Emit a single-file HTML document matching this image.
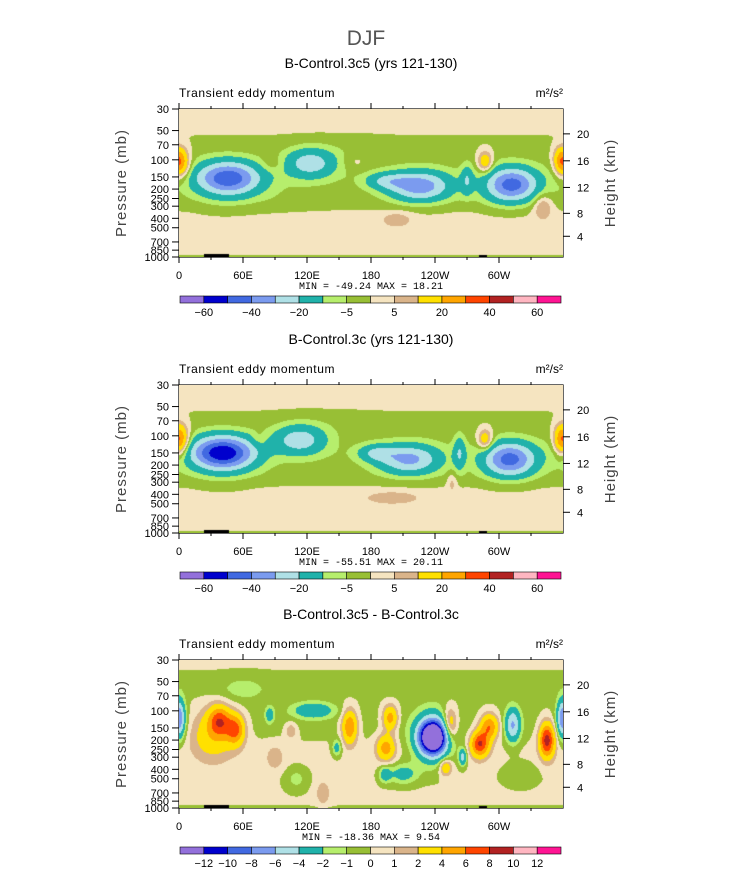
<!DOCTYPE html>
<html><head><meta charset="utf-8">
<style>
html,body{margin:0;padding:0;background:#fff;}
body{width:733px;height:873px;position:relative;overflow:hidden;font-family:"Liberation Sans",sans-serif;}
</style></head>
<body>
<svg id="svg" width="733" height="873" style="position:absolute;left:0;top:0"></svg>
<script>
// ---------- data ----------
const lonTicks = [0, 60, 120, 180, 240, 300];
const lonTickLabels = ["0", "60E", "120E", "180", "120W", "60W"];
const presTicks = [30, 50, 70, 100, 150, 200, 250, 300, 400, 500, 700, 850, 1000];
const heightTicks = [20, 16, 12, 8, 4];
const heightTickFrac = [0.168, 0.35, 0.53, 0.705, 0.86];
const colors = ["#9370db","#0000cd","#4169e1","#7b9bef","#afe0e6","#20b2aa","#b6ee6c","#98bf35","#f5e4c0","#dab48a","#ffe000","#ffa500","#ff4500","#b22222","#ffb6c1","#ff1493"];
const levelsAB = [-60,-50,-40,-30,-20,-10,-5,0,5,10,20,30,40,50,60];
const levelsDiff = [-12,-10,-8,-6,-4,-2,-1,0,1,2,4,6,8,10,12];
const labelsAB = ["-60","","-40","","-20","","-5","","5","","20","","40","","60"];
const labelsDiff = ["-12","-10","-8","-6","-4","-2","-1","0","1","2","4","6","8","10","12"];
// background vertical profiles (pressure, value)
const profP = [30, 45, 60, 80, 110, 150, 250, 350, 500, 700, 900, 1000];
const profA = [2, 1.5, -0.5, -1.5, -2.5, -3.3, -2.3, 0.5, 2, 2, 1, -1];
const profB = [2, 1.5, -0.5, -1.5, -2.5, -3.3, -2.3, 0.5, 2, 2, 1, -1];
const profC = [0.3, -0.2, -0.4, -0.2, -0.3, -0.3, 0.2, 0.3, 0.2, 0.2, 0.2, -0.3];
// blobs: lon, pressure, amplitude, lon-width(deg), vertical width (fraction)
const blobsA_lon = [46, 123, 226, 195, 312, 270, 2, 358, 287, 204, 341, 90, 160, 40, 300, 88, 165];
const blobsA_p   = [155, 108, 187, 165, 180, 160, 110, 100, 105, 410, 300, 250, 75, 300, 250, 110, 105];
const blobsA_amp = [-45, -24, -34, -16, -42, -14, 22, 18, 20, 8, 12, -1, -1.5, -1, -1, 5, 4];
const blobsA_wl  = [21, 17, 20, 14, 17, 4, 6, 5, 5, 10, 6, 25, 25, 20, 15, 8, 8];
const blobsA_wy  = [0.08, 0.07, 0.07, 0.04, 0.08, 0.07, 0.07, 0.06, 0.05, 0.035, 0.06, 0.08, 0.06, 0.07, 0.07, 0.04, 0.04];
const blobsB_lon = [41, 113, 216, 185, 310, 263, 2, 358, 287, 200, 256, 140, 40, 75];
const blobsB_p   = [150, 110, 175, 150, 175, 150, 110, 110, 110, 430, 300, 75, 300, 110];
const blobsB_amp = [-56, -24, -30, -16, -42, -16, 22, 18, 20, 8, 7, -1.5, -1, 5];
const blobsB_wl  = [21, 17, 20, 12, 17, 4, 6, 5, 5, 18, 3, 30, 20, 5];
const blobsB_wy  = [0.08, 0.07, 0.07, 0.04, 0.08, 0.08, 0.07, 0.07, 0.05, 0.03, 0.05, 0.06, 0.07, 0.04];
const blobsC_lon = [238, 238, 210, 38, 53, 32, 0, 360, 126, 160, 198, 194, 282, 291, 254, 250, 313, 345, 266, 148, 193, 90, 110, 320, 60, 135, 85, 105];
const blobsC_p   = [187, 190, 445, 127, 155, 170, 120, 120, 99, 145, 118, 240, 220, 145, 140, 380, 140, 200, 300, 240, 450, 300, 500, 450, 60, 700, 110, 160];
const blobsC_amp = [-16, -6, -3, 6, 6, 3.5, -4, -4, -3.5, 6, 5, 5, 8, 6, 5, 4, -6, 9, -5, -3, -3, 1.5, -1.5, -1.2, -1.2, 1.5, -3, 2];
const blobsC_wl  = [8, 13, 10, 7, 6, 15, 4, 4, 14, 5, 5, 6, 6, 6, 5, 4, 5, 5, 2.5, 3, 4, 6, 8, 12, 15, 5, 3, 4];
const blobsC_wy  = [0.07, 0.12, 0.05, 0.07, 0.07, 0.12, 0.09, 0.09, 0.04, 0.08, 0.06, 0.06, 0.06, 0.06, 0.08, 0.04, 0.08, 0.08, 0.04, 0.04, 0.04, 0.06, 0.06, 0.06, 0.06, 0.06, 0.04, 0.04];

const panels = [
 {top:109, title:"B-Control.3c5 (yrs 121-130)", prof:profA, lon:blobsA_lon,p:blobsA_p,amp:blobsA_amp,wl:blobsA_wl,wy:blobsA_wy, lev:levelsAB, labs:labelsAB, mm:"MIN = -49.24   MAX =  18.21"},
 {top:385, title:"B-Control.3c (yrs 121-130)", prof:profB, lon:blobsB_lon,p:blobsB_p,amp:blobsB_amp,wl:blobsB_wl,wy:blobsB_wy, lev:levelsAB, labs:labelsAB, mm:"MIN = -55.51   MAX =  20.11"},
 {top:660, title:"B-Control.3c5 - B-Control.3c", prof:profC, lon:blobsC_lon,p:blobsC_p,amp:blobsC_amp,wl:blobsC_wl,wy:blobsC_wy, lev:levelsDiff, labs:labelsDiff, mm:"MIN = -18.36   MAX =    9.54"}
];

const X0=179, W=384, H=148;
const L30=Math.log10(30), L1000=Math.log10(1000);
const pFrac = p => (Math.log10(p)-L30)/(L1000-L30);
const xOf = lon => X0 + lon/360*W;
const NS="http://www.w3.org/2000/svg";
const svg=document.getElementById('svg');
function mk(tag, attrs, parent){const e=document.createElementNS(NS,tag);for(const k in attrs)e.setAttribute(k,attrs[k]);(parent||svg).appendChild(e);return e;}
function txt(x,y,s,size,anchor,parent){const t=mk('text',{x:x,y:y,'font-size':size,'text-anchor':anchor||'middle','font-family':'Liberation Sans, sans-serif',fill:'#000'},parent);t.textContent=s;return t;}

let t=txt(366,45,"DJF",21);t.setAttribute('fill','#555');



panels.forEach((P,pi)=>{
  const g=mk('g',{});
  
  
  const top=P.top;
  const canvas=document.createElement('canvas');
  canvas.width=W;canvas.height=H;
  canvas.style.cssText='position:absolute;left:'+X0+'px;top:'+top+'px;';
  
  
  document.body.appendChild(canvas);
  const ctx=canvas.getContext('2d');
  const img=ctx.createImageData(W,H);
  const pf=profP.map(pFrac);
  const bf=P.p.map(pFrac);
  const rgb=colors.map(c=>[parseInt(c.substr(1,2),16),parseInt(c.substr(3,2),16),parseInt(c.substr(5,2),16)]);
  for(let j=0;j<H;j++){
    const fy=(j+0.5)/H;
    let base=P.prof[P.prof.length-1];
    for(let k=0;k<pf.length-1;k++){ if(fy>=pf[k]&&fy<=pf[k+1]){const a=(fy-pf[k])/(pf[k+1]-pf[k]);base=P.prof[k]*(1-a)+P.prof[k+1]*a;break;} }
    for(let i=0;i<W;i++){
      const lon=(i+0.5)/W*360;
      let v=base;
      for(let b=0;b<P.lon.length;b++){
        let d=Math.abs(lon-P.lon[b]); if(d>180)d=360-d;
        const dy=fy-bf[b];
        v+=P.amp[b]*Math.exp(-(d*d)/(2*P.wl[b]*P.wl[b])-(dy*dy)/(2*P.wy[b]*P.wy[b]));
      }
      let bin=0; while(bin<P.lev.length && v>=P.lev[bin]) bin++;
      const c=rgb[bin], o=(j*W+i)*4;
      img.data[o]=c[0];img.data[o+1]=c[1];img.data[o+2]=c[2];img.data[o+3]=255;
    }
  }
  ctx.putImageData(img,0,0);
  ctx.fillStyle='#000';ctx.fillRect(25,H-3,25,3);ctx.fillRect(300,H-2,8,2);
  mk('rect',{x:X0,y:top,width:W,height:H,fill:'none',stroke:'#000','stroke-width':1.2},g);
  let tt=txt(371,top-41,P.title,14,'middle',g);
  
  
  tt=txt(179,top-12,"Transient eddy momentum",12,'start',g);
  tt.setAttribute('letter-spacing','0.6');
  
  
  tt=txt(563,top-12,"m²/s²",12,'end',g);
  
  
  lonTicks.forEach((lon,k)=>{
    const x=xOf(lon);
    mk('line',{x1:x,x2:x,y1:top,y2:top-6,stroke:'#000'},g);
    mk('line',{x1:x,x2:x,y1:top+H,y2:top+H+6,stroke:'#000'},g);
    const l=txt(x,top+H+22,lonTickLabels[k],11,'middle',g);
    
    
  });
  for(let lon=30;lon<360;lon+=60){const x=xOf(lon);mk('line',{x1:x,x2:x,y1:top,y2:top-3,stroke:'#000'},g);mk('line',{x1:x,x2:x,y1:top+H,y2:top+H+3,stroke:'#000'},g);}
  presTicks.forEach(p=>{
    const y=top+pFrac(p)*H;
    mk('line',{x1:X0,x2:X0-7,y1:y,y2:y,stroke:'#000'},g);
    const l=txt(X0-10,y+4,String(p),11,'end',g);
    
    
  });
  heightTicks.forEach((h,k)=>{
    const y=top+heightTickFrac[k]*H;
    mk('line',{x1:X0+W,x2:X0+W+7,y1:y,y2:y,stroke:'#000'},g);
    const l=txt(X0+W+14,y+4,String(h),11,'start',g);
    
    
  });
  let ya=txt(0,0,"Pressure (mb)",15,'middle',g);
  ya.setAttribute('transform','translate(126,'+(top+H/2)+') rotate(-90)');
  ya.setAttribute('fill','#444');
  ya.setAttribute('letter-spacing','1');
  
  
  let yb=txt(0,0,"Height (km)",15,'middle',g);
  yb.setAttribute('transform','translate(615,'+(top+H/2)+') rotate(-90)');
  yb.setAttribute('fill','#444');
  yb.setAttribute('letter-spacing','1');
  
  
  let mmt=txt(371,top+H+32,P.mm,10,'middle',g);
  mmt.setAttribute('xml:space','preserve');
  mmt.setAttribute('font-family','Liberation Mono, monospace');
  
  
  const cbY=top+H+39, cbX=180, bw=381/16;
  colors.forEach((c,k)=>{
    const r=mk('rect',{x:cbX+k*bw,y:cbY,width:bw,height:7,fill:c,stroke:'#000','stroke-width':0.6},g);
    
    
  });
  P.labs.forEach((s,k)=>{
    if(!s)return;
    const l=txt(cbX+(k+1)*bw,cbY+20,s.replace('-','−'),11,'middle',g);
    
    
  });
});
</script>
</body></html>
